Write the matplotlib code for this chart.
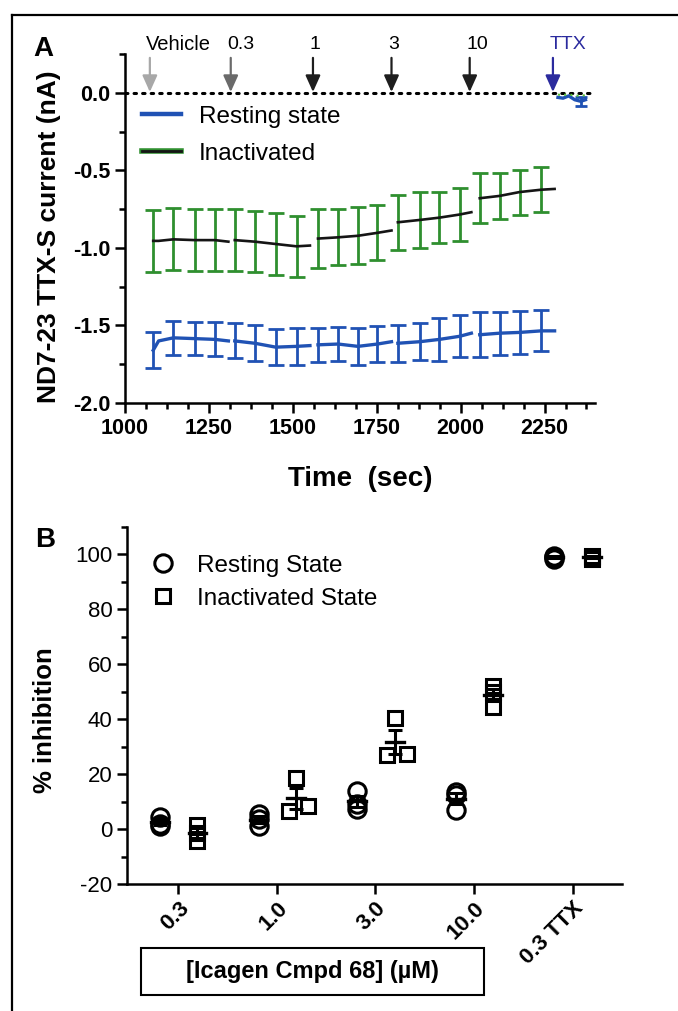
import matplotlib
matplotlib.use("Agg")
import matplotlib.pyplot as plt
import matplotlib.patheffects as pe
from matplotlib.lines import Line2D
from matplotlib.patches import Rectangle
from matplotlib.ticker import MultipleLocator, FormatStrFormatter
import numpy as np

# ---- panel A: current over time, one segment per concentration ----
seg_times = [
    [1084, 1100, 1144, 1208, 1268, 1308],
    [1327, 1387, 1449, 1511, 1551],
    [1575, 1635, 1694, 1752, 1794],
    [1813, 1878, 1937, 1997, 2032],
    [2057, 2116, 2176, 2240, 2280],
]
rest_mean = [
    [-1.66, -1.60, -1.58, -1.585, -1.59, -1.60],
    [-1.60, -1.615, -1.64, -1.635, -1.63],
    [-1.625, -1.62, -1.635, -1.62, -1.605],
    [-1.615, -1.605, -1.59, -1.57, -1.55],
    [-1.56, -1.55, -1.545, -1.535, -1.535],
]
rest_sem = [
    [0.116, np.nan, 0.108, 0.108, 0.11, np.nan],
    [0.113, 0.115, 0.118, 0.118, np.nan],
    [0.11, 0.112, 0.118, 0.115, np.nan],
    [0.118, 0.118, 0.138, 0.135, np.nan],
    [0.145, 0.138, 0.14, 0.132, np.nan],
]
inact_mean = [
    [-0.955, -0.955, -0.945, -0.95, -0.95, -0.96],
    [-0.95, -0.96, -0.975, -0.99, -0.985],
    [-0.94, -0.932, -0.922, -0.903, -0.888],
    [-0.835, -0.82, -0.805, -0.785, -0.77],
    [-0.68, -0.665, -0.64, -0.625, -0.62],
]
inact_sem = [
    [0.2, np.nan, 0.2, 0.2, 0.2, np.nan],
    [0.2, 0.195, 0.2, 0.195, np.nan],
    [0.19, 0.18, 0.183, 0.177, np.nan],
    [0.176, 0.18, 0.163, 0.172, np.nan],
    [0.16, 0.15, 0.145, 0.145, np.nan],
]
ttx_times = [2290, 2305, 2322, 2340, 2358, 2372]
ttx_rest = [-0.03, -0.035, -0.02, -0.045, -0.055, -0.045]
ttx_rest_sem = [np.nan, np.nan, np.nan, np.nan, 0.03, np.nan]
ttx_inact = [-0.012, -0.015, -0.01, -0.018, -0.02, -0.015]

additions = ["Vehicle", "0.3", "1", "3", "10", "TTX"]
addition_times = [1074, 1315, 1560, 1794, 2027, 2275]
arrow_colors = ["#a8a8a8", "#6a6a6a", "#1e1e1e", "#1e1e1e", "#1e1e1e", "#2b2b9e"]

# ---- panel B: % inhibition per concentration ----
conc_labels = ["0.3", "1.0", "3.0", "10.0", "0.3 TTX"]
resting_pct = [[4.5, 2.0, 1.0], [5.5, 3.5, 1.2], [14.0, 9.0, 7.5],
               [13.5, 12.5, 7.0], [99.5, 99.0, 98.5]]
inactivated_pct = [[1.5, -4.5, -1.5], [18.5, 6.5, 8.5], [40.5, 27.0, 27.5],
                   [52.0, 50.0, 44.5], [99.0, 98.5, 99.5]]

# horizontal spread of overlapping squares
sq_spread = [[0, 0, 0], [0, -0.07, 0.12], [0, -0.08, 0.12], [0, 0, 0], [0, 0, 0]]

BLUE = "#2052b4"
GREEN = "#2f8f2f"

plt.rcParams["font.family"] = ["Liberation Sans", "DejaVu Sans"]
plt.rcParams["axes.linewidth"] = 1.8
plt.rcParams["axes.unicode_minus"] = False

fig = plt.figure(figsize=(6.78, 10.11), dpi=100)

# frame lines on the left and top
fig.add_artist(Line2D([12 / 678, 12 / 678], [0, 1 - 15 / 1011],
                      transform=fig.transFigure, color="black", lw=1.6))
fig.add_artist(Line2D([12 / 678, 1], [1 - 15 / 1011, 1 - 15 / 1011],
                      transform=fig.transFigure, color="black", lw=1.6))

# ================= A =================
axA = fig.add_axes([0.1844, 0.6014, 0.693, 0.3452])
axA.axhline(0, color="black", lw=2.2, linestyle=(0, (0.8, 2.0)),
            dash_capstyle="round", zorder=1)

for t, m, s in zip(seg_times, rest_mean, rest_sem):
    axA.errorbar(t, m, yerr=s, color=BLUE, lw=2.4, elinewidth=2.0,
                 capsize=5.5, capthick=2.0, zorder=3)
for t, m, s in zip(seg_times, inact_mean, inact_sem):
    axA.errorbar(t, m, yerr=s, fmt="none", ecolor=GREEN, elinewidth=2.0,
                 capsize=5.5, capthick=2.0, zorder=2)
    axA.plot(t, m, color="#151515", lw=1.9, zorder=4)

axA.errorbar(ttx_times, ttx_rest, yerr=ttx_rest_sem, color=BLUE, lw=2.4,
             elinewidth=2.0, capsize=4, capthick=2.0, zorder=3)
axA.plot(ttx_times, ttx_inact, color="#59c23a", lw=1.5, linestyle=(0, (1, 2)), zorder=4)

for name, t, c in zip(additions, addition_times, arrow_colors):
    axA.annotate("", xy=(t, 0.005), xytext=(t, 0.225),
                 arrowprops=dict(arrowstyle="-|>,head_length=1.0,head_width=0.45",
                                 color=c, lw=1.6, shrinkA=0, shrinkB=0),
                 annotation_clip=False, zorder=5)
    txt_color = "#2b2b9e" if name == "TTX" else "black"
    size = 14.5 if name == "Vehicle" else 14
    axA.text(t - 11, 0.31, name, ha="left", va="center", fontsize=size,
             color=txt_color, clip_on=False)

axA.set_xlim(1000, 2400)
axA.set_ylim(-2.0, 0.25)
axA.xaxis.set_minor_locator(MultipleLocator(62.5))
axA.set_xticks([1000, 1250, 1500, 1750, 2000, 2250])
axA.yaxis.set_major_locator(MultipleLocator(0.5))
axA.yaxis.set_minor_locator(MultipleLocator(0.25))
axA.yaxis.set_major_formatter(FormatStrFormatter("%.1f"))
axA.spines["top"].set_visible(False)
axA.spines["right"].set_visible(False)
axA.tick_params(which="major", length=7, width=1.8, labelsize=15.5)
axA.tick_params(which="minor", length=4.5, width=1.8)
for lab in axA.get_xticklabels() + axA.get_yticklabels():
    lab.set_fontweight("bold")
axA.set_xlabel("Time  (sec)", fontsize=20, fontweight="bold", labelpad=20)
axA.set_ylabel("ND7-23 TTX-S current (nA)", fontsize=19, fontweight="bold")
axA.yaxis.set_label_coords(-0.137, 0.476)

leg_handles = [
    Line2D([], [], color=BLUE, lw=3.2),
    Line2D([], [], color="#151515", lw=2,
           path_effects=[pe.Stroke(linewidth=4, foreground=GREEN), pe.Normal()]),
]
axA.legend(leg_handles, ["Resting state", "Inactivated"], loc="upper left",
           bbox_to_anchor=(0.0, 0.9), frameon=False, fontsize=17.5,
           handlelength=1.6, handletextpad=0.75, labelspacing=0.6, borderaxespad=0.3)

fig.text(43 / 678, 1 - 49 / 1011, "A", fontsize=20, fontweight="bold",
         ha="center", va="center")

# ================= B =================
axB = fig.add_axes([0.1873, 0.1256, 0.730, 0.3531])
x = np.arange(len(conc_labels))
for i in range(len(conc_labels)):
    for vals, shift, marker, ms, spread in (
        (resting_pct[i], -0.185, "o", 12.5, [0, 0, 0]),
        (inactivated_pct[i], 0.195, "s", 10.5, sq_spread[i]),
    ):
        vals = np.array(vals)
        xs = x[i] + shift + np.array(spread)
        axB.plot(xs, vals, linestyle="none", marker=marker, ms=ms,
                 mfc="none", mec="black", mew=2.2, zorder=3)
        mean = vals.mean()
        sem = vals.std(ddof=1) / np.sqrt(len(vals))
        axB.plot([x[i] + shift - 0.09, x[i] + shift + 0.09], [mean, mean],
                 color="black", lw=2.4, zorder=4)
        axB.errorbar(x[i] + shift, mean, yerr=sem, fmt="none", ecolor="black",
                     elinewidth=2.2, capsize=5, capthick=2.2, zorder=4)

axB.set_xlim(-0.52, 4.5)
axB.set_ylim(-20, 110)
axB.set_xticks(x)
axB.set_xticklabels(conc_labels, rotation=45, ha="right", rotation_mode="anchor",
                    fontsize=16, fontweight="bold")
axB.yaxis.set_minor_locator(MultipleLocator(10))
axB.set_yticks([-20, 0, 20, 40, 60, 80, 100])
axB.spines["top"].set_visible(False)
axB.spines["right"].set_visible(False)
axB.tick_params(which="major", length=7, width=1.8, labelsize=16)
axB.tick_params(axis="x", which="major", pad=3)
axB.tick_params(which="minor", length=4.5, width=1.8)
axB.set_ylabel("% inhibition", fontsize=18.5, fontweight="bold")
axB.yaxis.set_label_coords(-0.142, 0.46)

legB = [
    Line2D([], [], linestyle="none", marker="o", ms=12.5, mfc="none", mec="black", mew=2.2),
    Line2D([], [], linestyle="none", marker="s", ms=10.5, mfc="none", mec="black", mew=2.2),
]
axB.legend(legB, ["Resting State", "Inactivated State"], loc="upper left",
           bbox_to_anchor=(-0.01, 0.97), frameon=False, fontsize=17.5,
           handletextpad=0.4, labelspacing=0.45, borderaxespad=0.3)

fig.text(45 / 678, 1 - 540 / 1011, "B", fontsize=20, fontweight="bold",
         ha="center", va="center")

# boxed axis title under panel B
fig.add_artist(Rectangle((141 / 678, 16 / 1011), 343 / 678, 47 / 1011,
                         transform=fig.transFigure, fill=False, ec="black", lw=1.5))
fig.text(312.5 / 678, 39.5 / 1011, "[Icagen Cmpd 68] (\u00b5M)", fontsize=17,
         fontweight="bold", ha="center", va="center")

fig.savefig("out.png", dpi=100)
